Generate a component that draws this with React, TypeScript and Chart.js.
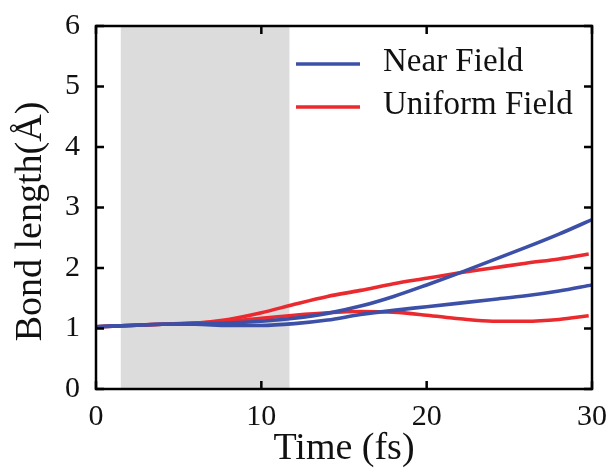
import React, { useEffect, useRef } from "react";
import { Chart, registerables } from "chart.js";

Chart.register(...registerables);

const timeBlue = [0, 2, 4, 6, 8, 10, 12, 14, 16, 18, 20, 22, 24, 26, 28, 30];
const timeRed = [0, 2, 4, 6, 8, 10, 12, 14, 16, 18, 20, 22, 24, 26, 28, 29.8];

const nearFieldA = [1.03, 1.05, 1.07, 1.08, 1.09, 1.12, 1.17, 1.25, 1.37, 1.53, 1.72, 1.92, 2.13, 2.34, 2.56, 2.8];
const nearFieldB = [1.03, 1.05, 1.07, 1.07, 1.05, 1.05, 1.08, 1.14, 1.23, 1.3, 1.36, 1.42, 1.48, 1.54, 1.62, 1.72];
const uniformFieldA = [1.03, 1.05, 1.07, 1.09, 1.15, 1.26, 1.4, 1.53, 1.63, 1.74, 1.83, 1.92, 2.0, 2.08, 2.15, 2.23];
const uniformFieldB = [1.03, 1.05, 1.07, 1.09, 1.12, 1.17, 1.22, 1.26, 1.28, 1.27, 1.22, 1.16, 1.12, 1.12, 1.15, 1.21];

const shadeRange = [1.5, 11.7];
const legendLabels = ["Near Field", "Uniform Field"];
const xTitle = "Time (fs)";
const yTitle = "Bond length(Å)";
const xTicks = [0, 10, 20, 30];
const yTicks = [0, 1, 2, 3, 4, 5, 6];

const BLUE = "#3c50a8";
const RED = "#ea2a2e";
const FONT = "'Liberation Serif', 'Times New Roman', serif";

const toPoints = (xs: number[], ys: number[]) => xs.map((x, i) => ({ x, y: ys[i] }));

export default function App() {
  const ref = useRef<HTMLCanvasElement | null>(null);

  useEffect(() => {
    if (!ref.current) return;

    const shadePlugin = {
      id: "shade",
      beforeDatasetsDraw(chart: any) {
        const { ctx, chartArea, scales } = chart;
        const x0 = scales.x.getPixelForValue(shadeRange[0]);
        const x1 = scales.x.getPixelForValue(shadeRange[1]);
        ctx.save();
        ctx.fillStyle = "#dcdcdc";
        ctx.fillRect(x0, chartArea.top, x1 - x0, chartArea.bottom - chartArea.top);
        ctx.restore();
      },
    };

    const framePlugin = {
      id: "frame",
      afterDraw(chart: any) {
        const { ctx, chartArea, scales } = chart;
        const { left, right, top, bottom } = chartArea;
        ctx.save();
        ctx.strokeStyle = "#000";
        ctx.lineWidth = 2.5;
        ctx.strokeRect(left, top, right - left, bottom - top);
        const tl = 8;
        ctx.beginPath();
        xTicks.forEach((v) => {
          const px = scales.x.getPixelForValue(v);
          ctx.moveTo(px, bottom);
          ctx.lineTo(px, bottom - tl);
          ctx.moveTo(px, top);
          ctx.lineTo(px, top + tl);
        });
        yTicks.forEach((v) => {
          const py = scales.y.getPixelForValue(v);
          ctx.moveTo(left, py);
          ctx.lineTo(left + tl, py);
          ctx.moveTo(right, py);
          ctx.lineTo(right - tl, py);
        });
        ctx.stroke();

        // y axis title
        ctx.save();
        ctx.translate(31, (top + bottom) / 2 + 14);
        ctx.rotate(-Math.PI / 2);
        ctx.font = `38px ${FONT}`;
        ctx.fillStyle = "#111";
        ctx.textAlign = "center";
        ctx.textBaseline = "middle";
        ctx.fillText(yTitle, 0, 0);
        ctx.restore();

        // legend
        const colors = [chart.data.datasets[0].borderColor, chart.data.datasets[2].borderColor];
        const lx0 = right - 296;
        const ys = [top + 38, top + 81];
        ctx.font = `33px ${FONT}`;
        ctx.textBaseline = "middle";
        ctx.textAlign = "left";
        legendLabels.forEach((lab, i) => {
          ctx.strokeStyle = colors[i];
          ctx.lineWidth = 3.5;
          ctx.beginPath();
          ctx.moveTo(lx0, ys[i]);
          ctx.lineTo(lx0 + 64, ys[i]);
          ctx.stroke();
          ctx.fillStyle = "#111";
          ctx.fillText(lab, lx0 + 87, ys[i] - 2);
        });
        ctx.restore();
      },
    };

    const ds = (data: any, color: string, label: string) => ({
      label,
      data,
      borderColor: color,
      backgroundColor: color,
      borderWidth: 3.6,
      pointRadius: 0,
      tension: 0.4,
      cubicInterpolationMode: "monotone" as const,
      fill: false,
    });

    const chart = new Chart(ref.current, {
      type: "line",
      data: {
        datasets: [
          ds(toPoints(timeBlue, nearFieldA), BLUE, legendLabels[0]),
          ds(toPoints(timeBlue, nearFieldB), BLUE, legendLabels[0]),
          ds(toPoints(timeRed, uniformFieldA), RED, legendLabels[1]),
          ds(toPoints(timeRed, uniformFieldB), RED, legendLabels[1]),
        ],
      },
      options: {
        animation: false,
        responsive: false,
        devicePixelRatio: 1,
        layout: { padding: { top: 19, right: 18, left: 0, bottom: 0 } },
        plugins: { legend: { display: false }, tooltip: { enabled: false } },
        scales: {
          x: {
            type: "linear",
            min: 0,
            max: 30,
            border: { display: false },
            grid: { display: false },
            afterFit: (s: any) => {
              s.height = 81;
            },
            ticks: {
              stepSize: 10,
              padding: 2,
              color: "#111",
              font: { family: FONT, size: 30 },
              maxRotation: 0,
            },
            title: {
              display: true,
              text: xTitle,
              color: "#111",
              font: { family: FONT, size: 38 },
              padding: { top: 0, bottom: -2 },
            },
          },
          y: {
            min: 0,
            max: 6,
            border: { display: false },
            grid: { display: false },
            afterFit: (s: any) => {
              s.width = 96;
            },
            ticks: {
              stepSize: 1,
              padding: 8,
              color: "#111",
              font: { family: FONT, size: 30 },
            },
            title: { display: false, text: yTitle },
          },
        },
      },
      plugins: [shadePlugin, framePlugin],
    });

    return () => chart.destroy();
  }, []);

  return (
    <div style={{ position: "fixed", left: 0, top: 0, width: 610, height: 470, background: "#fff" }}>
      <canvas ref={ref} width={610} height={470} style={{ width: 610, height: 470 }} />
    </div>
  );
}
